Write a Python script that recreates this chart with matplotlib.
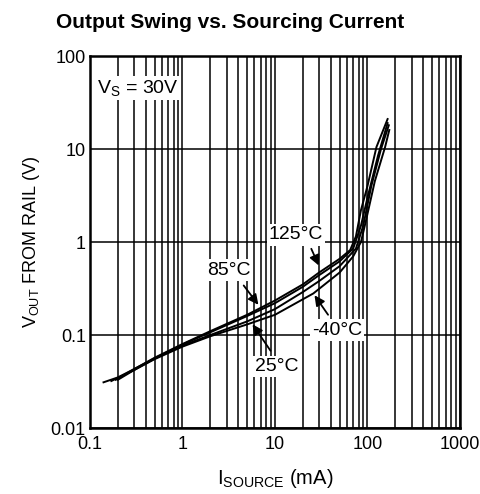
import numpy as np
import matplotlib
matplotlib.use('Agg')
import matplotlib.pyplot as plt
from matplotlib.ticker import LogLocator, NullFormatter, FixedLocator

plt.rcParams['font.family'] = ['Liberation Sans', 'DejaVu Sans']
plt.rcParams['mathtext.fontset'] = 'custom'
plt.rcParams['mathtext.rm'] = 'Liberation Sans'

# source current (mA) and output swing from rail (V)
x_125 = [0.19, 0.3, 0.5, 1, 2, 5, 10, 20, 30, 50, 65, 75, 85, 100, 125, 165]
y_125 = [0.033, 0.043, 0.057, 0.08, 0.11, 0.165, 0.235, 0.35, 0.47, 0.66, 0.82, 1.15, 2.2, 4.0, 10.5, 21]

x_85 = [0.17, 0.3, 0.5, 1, 2, 5, 10, 20, 30, 50, 70, 85, 100, 130, 165]
y_85 = [0.032, 0.042, 0.056, 0.079, 0.107, 0.16, 0.22, 0.33, 0.44, 0.62, 0.85, 1.5, 3.0, 8.5, 19]

x_25 = [0.14, 0.2, 0.3, 0.5, 1, 2, 5, 10, 20, 30, 50, 75, 90, 110, 140, 170]
y_25 = [0.031, 0.035, 0.043, 0.056, 0.077, 0.1, 0.14, 0.19, 0.29, 0.38, 0.55, 0.85, 1.5, 4.0, 10, 18]

x_m40 = [0.2, 0.3, 0.5, 1, 2, 5, 10, 26, 50, 70, 85, 95, 120, 155, 172]
y_m40 = [0.033, 0.042, 0.055, 0.075, 0.097, 0.13, 0.165, 0.28, 0.47, 0.7, 1.0, 1.6, 4.5, 10.5, 16]

fig = plt.figure(figsize=(4.8, 4.94), dpi=100)
ax = fig.add_axes([0.1875, 0.1336, 0.7708, 0.753])

for xs, ys in [(x_125, y_125), (x_85, y_85), (x_25, y_25), (x_m40, y_m40)]:
    ax.plot(xs, ys, color='black', lw=1.4, zorder=3)

ax.set_xscale('log')
ax.set_yscale('log')
ax.set_xlim(0.1, 1000)
ax.set_ylim(0.01, 100)

ax.xaxis.set_major_locator(FixedLocator([0.1, 1, 10, 100, 1000]))
ax.xaxis.set_minor_locator(LogLocator(base=10, subs=np.arange(2, 10)))
ax.xaxis.set_minor_formatter(NullFormatter())
ax.set_xticklabels(['0.1', '1', '10', '100', '1000'])
ax.yaxis.set_major_locator(FixedLocator([0.01, 0.1, 1, 10, 100]))
ax.yaxis.set_minor_locator(FixedLocator([]))
ax.set_yticklabels(['0.01', '0.1', '1', '10', '100'])

ax.grid(True, which='major', axis='both', color='black', lw=1.1)
ax.grid(True, which='minor', axis='x', color='black', lw=1.1)
ax.tick_params(which='both', length=0, labelsize=13)
ax.tick_params(axis='x', pad=6)
ax.tick_params(axis='y', pad=3)
for s in ax.spines.values():
    s.set_linewidth(1.8)

ax.set_xlabel(r'$\mathregular{I_{SOURCE}}$ (mA)', fontsize=14.5, labelpad=10)
ax.set_ylabel(r'$\mathregular{V_{OUT}}$ FROM RAIL (V)', fontsize=13, labelpad=6)
fig.text(0.48, 0.955, 'Output Swing vs. Sourcing Current', ha='center', va='center',
         fontsize=15, fontweight='bold')

box = dict(facecolor='white', edgecolor='none', pad=1.5)
ax.text(0.118, 45, r'$\mathregular{V_S}$ = 30V', fontsize=14, ha='left', va='center',
        bbox=box, zorder=4)

arrow = dict(arrowstyle='-|>', color='black', lw=1.3, mutation_scale=15)
ax.annotate('', xy=(30.6, 0.525), xytext=(24, 0.9), arrowprops=arrow, zorder=5)
ax.text(16.9, 1.19, '125°C', fontsize=14, ha='center', va='center', bbox=box, zorder=4)

ax.annotate('', xy=(6.9, 0.2), xytext=(4.4, 0.36), arrowprops=arrow, zorder=5)
ax.text(3.14, 0.5, '85°C', fontsize=14, ha='center', va='center', bbox=box, zorder=4)

ax.annotate('', xy=(25.7, 0.283), xytext=(39, 0.156), arrowprops=arrow, zorder=5)
ax.text(46.8, 0.113, '-40°C', fontsize=14, ha='center', va='center', bbox=box, zorder=4)

ax.annotate('', xy=(5.5, 0.138), xytext=(9.3, 0.064), arrowprops=arrow, zorder=5)
ax.text(10.4, 0.046, '25°C', fontsize=14, ha='center', va='center', bbox=box, zorder=4)

fig.savefig('out.png', dpi=100)
